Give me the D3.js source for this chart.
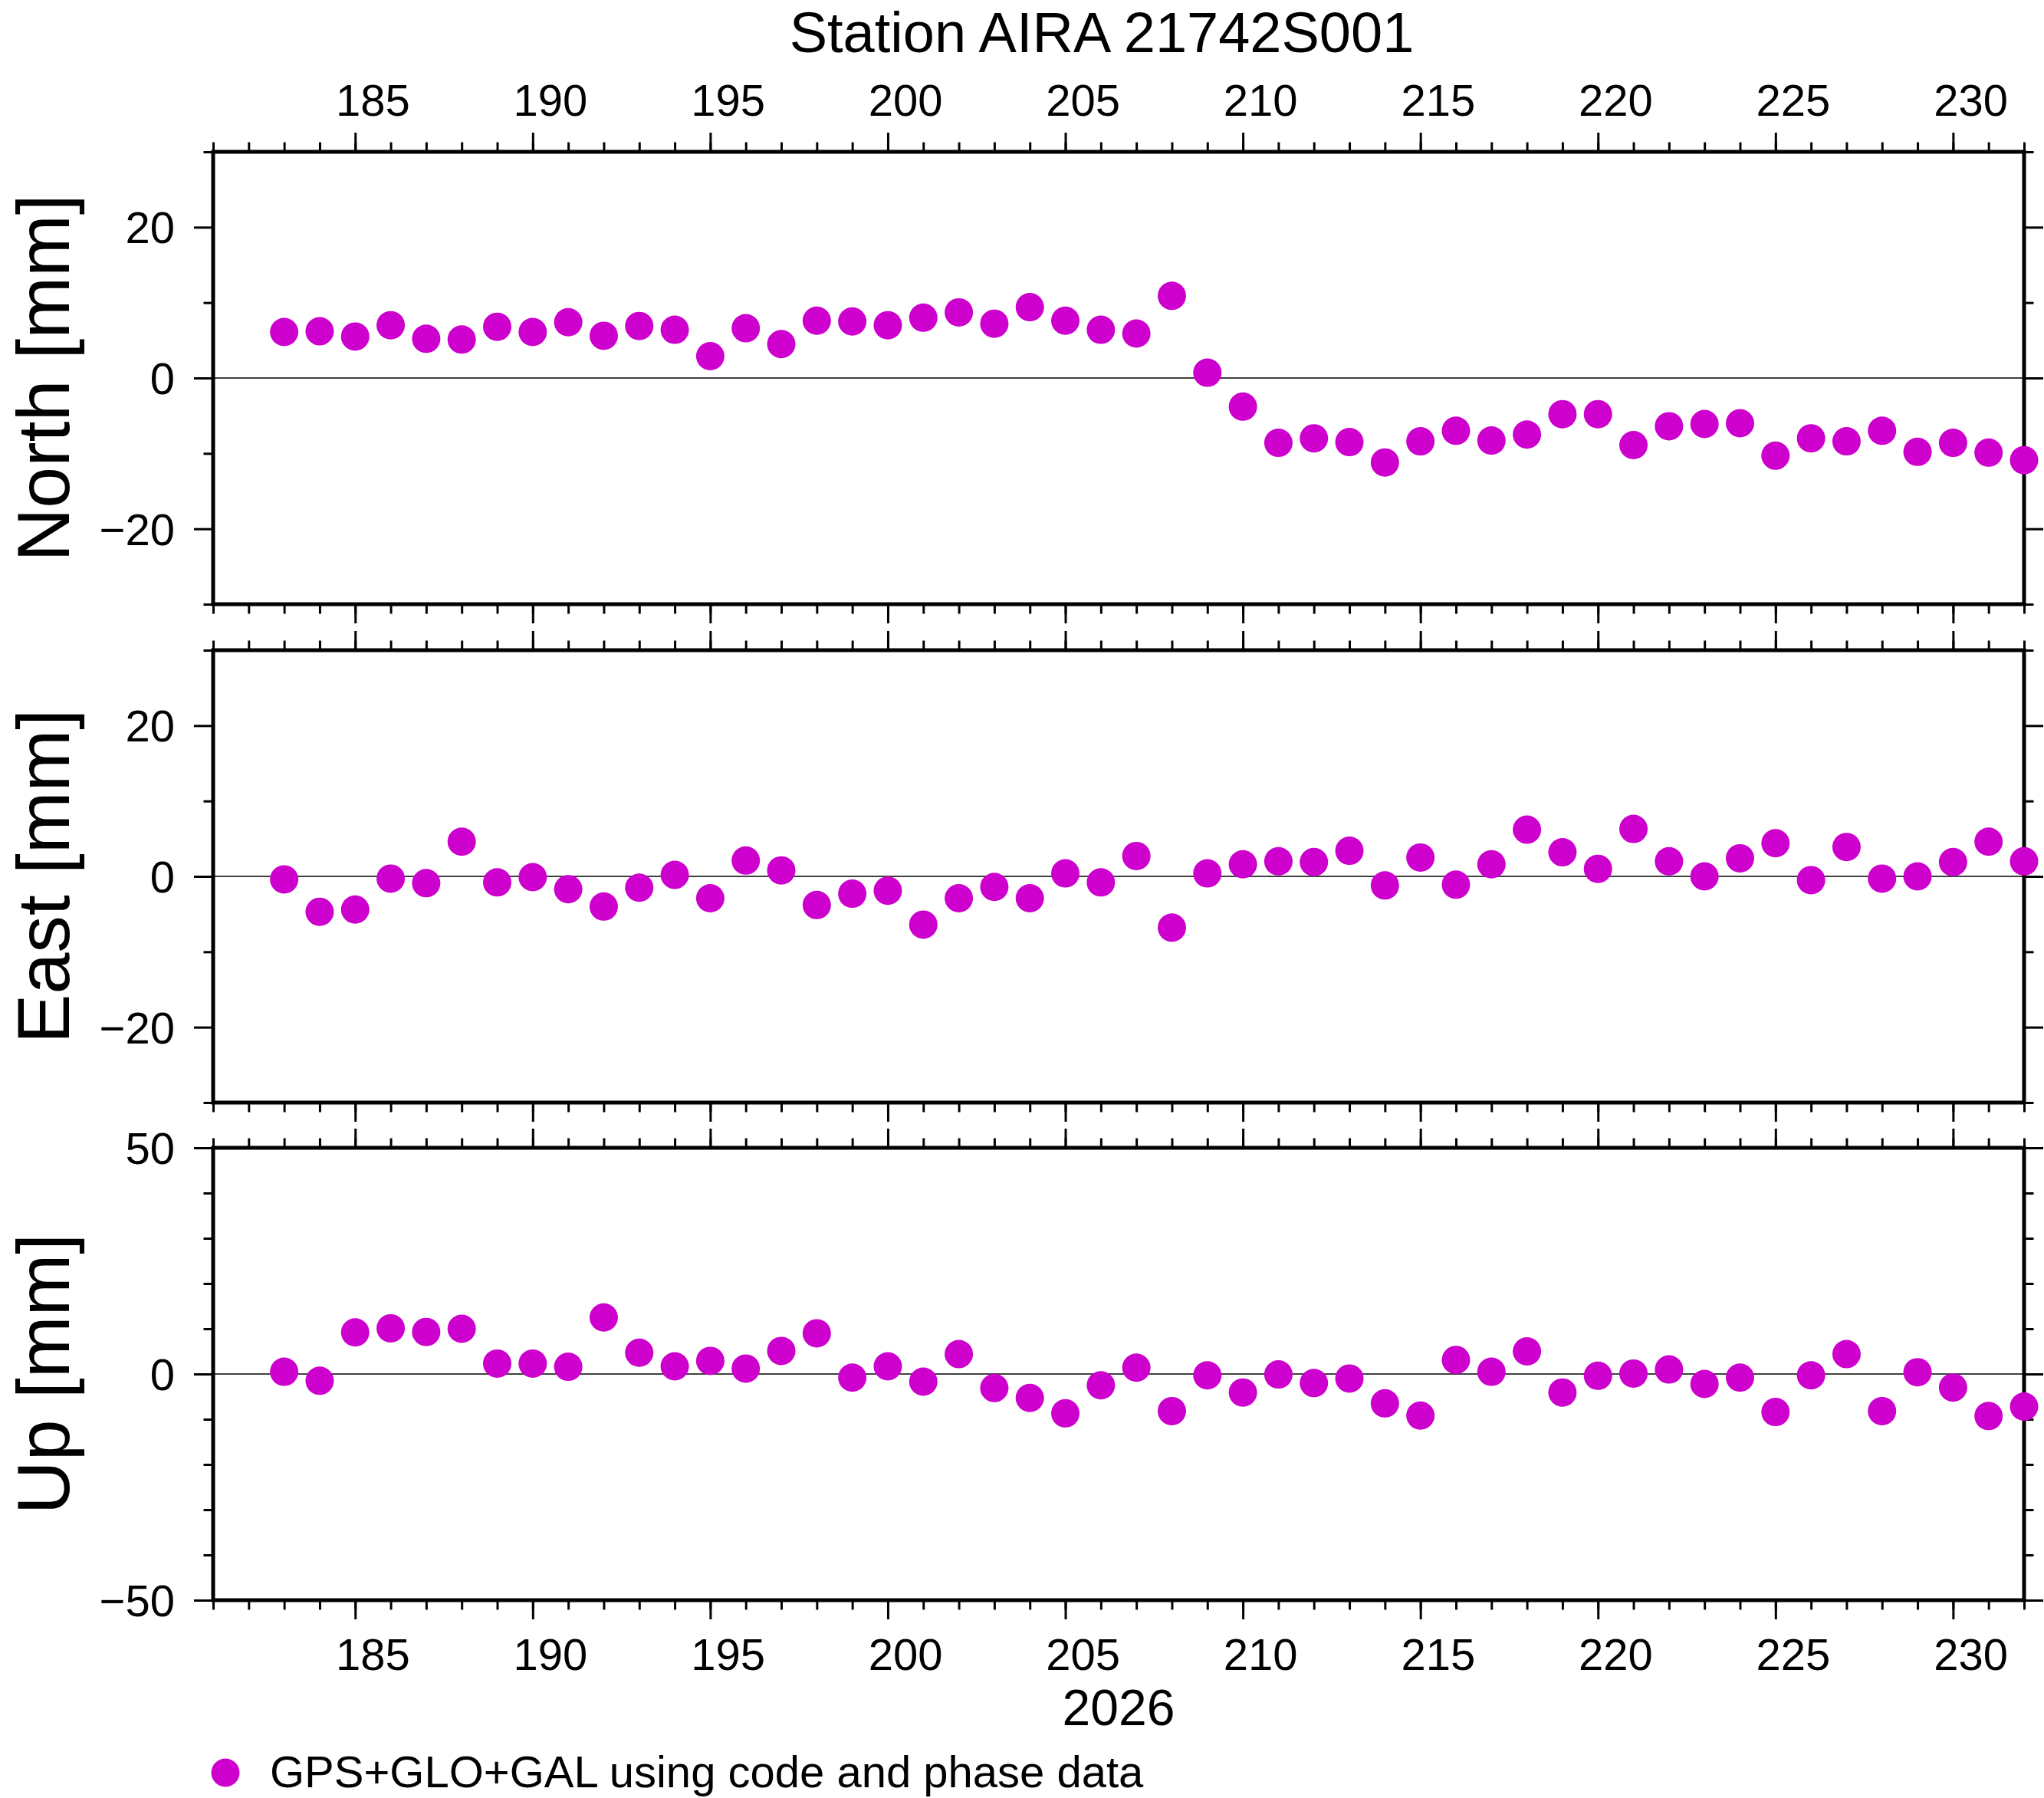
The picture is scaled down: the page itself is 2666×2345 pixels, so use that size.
<!DOCTYPE html>
<html>
<head>
<meta charset="utf-8">
<script src="https://cdn.jsdelivr.net/npm/d3@7"></script>
<style>
  html, body { margin: 0; padding: 0; background: #fff; }
  svg { display: block; }
  text { font-family: "Liberation Sans", Arial, Helvetica, sans-serif; fill: #000; }
</style>
</head>
<body>
<script>
// ---------------- data ----------------
const title = "Station AIRA 21742S001";
const yearLabel = "2026";
const legendLabel = "GPS+GLO+GAL using code and phase data";

const days = [183,184,185,186,187,188,189,190,191,192,193,194,195,196,197,198,199,200,201,202,
              203,204,205,206,207,208,209,210,211,212,213,214,215,216,217,218,219,220,221,222,
              223,224,225,226,227,228,229,230,231,232];

const north = [6.1,6.2,5.5,7.0,5.2,5.1,6.8,6.1,7.4,5.6,6.9,6.4,2.9,6.6,4.5,7.6,7.5,7.0,8.0,8.7,
               7.2,9.4,7.6,6.4,5.9,10.9,0.7,-3.8,-8.6,-8.0,-8.5,-11.2,-8.4,-7.0,-8.3,-7.5,-4.8,-4.8,-8.9,-6.4,
               -6.1,-6.0,-10.3,-8.0,-8.4,-7.0,-9.8,-8.6,-9.9,-10.9];

const east = [-0.4,-4.7,-4.4,-0.3,-0.9,4.6,-0.8,-0.1,-1.7,-4.0,-1.5,0.2,-2.9,2.1,0.8,-3.8,-2.3,-1.9,-6.4,-2.9,
              -1.4,-2.9,0.4,-0.8,2.7,-6.8,0.4,1.6,2.0,1.9,3.4,-1.2,2.5,-1.1,1.6,6.2,3.2,1.0,6.3,2.0,
              0.0,2.4,4.4,-0.5,3.9,-0.3,0.0,1.9,4.6,2.0];

const up = [0.5,-1.5,9.2,10.1,9.3,10.0,2.3,2.3,1.6,12.5,4.7,1.7,2.9,1.2,5.1,9.0,-0.8,1.7,-1.7,4.4,
            -3.1,-5.3,-8.7,-2.5,1.4,-8.2,-0.3,-4.1,-0.1,-2.0,-1.0,-6.5,-9.2,3.1,0.5,5.0,-4.1,-0.4,0.1,1.0,
            -2.2,-0.8,-8.4,-0.3,4.4,-8.2,0.4,-3.0,-9.3,-7.2];

const xDomain = [181, 232];
const xMajorTicks = [185,190,195,200,205,210,215,220,225,230];
const xMinorTicks = [181,182,183,184,185,186,187,188,189,190,191,192,193,194,195,196,197,198,199,200,
                     201,202,203,204,205,206,207,208,209,210,211,212,213,214,215,216,217,218,219,220,
                     221,222,223,224,225,226,227,228,229,230,231,232];

const panelNames = ["North [mm]", "East [mm]", "Up [mm]"];
const panelDomains = [[-30, 30], [-30, 30], [-50, 50]];
const panelMajorTicks = [[-20, 0, 20], [-20, 0, 20], [-50, 0, 50]];
const panelMinorTicks = [[-30,-10,10,30], [-30,-10,10,30], [-40,-30,-20,-10,10,20,30,40]];
const panelValues = [north, east, up];

// ---------------- layout ----------------
const W = 2666, H = 2345;
const left = 278, right = 2640;
const panelTops = [198, 848, 1497];
const panelH = 590;
const color = "rgb(205,0,205)";
const majorLen = 25, minorLen = 12.5;

const svg = d3.select("body").append("svg")
  .attr("width", W).attr("height", H)
  .attr("viewBox", `0 0 ${W} ${H}`);
svg.append("rect").attr("width", W).attr("height", H).attr("fill", "#fff");

const x = d3.scaleLinear().domain(xDomain).range([left, right]);

function styleTicks(g) {
  g.select(".domain").remove();
  g.selectAll(".tick line").attr("stroke", "#000").attr("stroke-width", 3);
  g.selectAll(".tick text").remove();
}

panelNames.forEach((name, i) => {
  const top = panelTops[i], bottom = top + panelH;
  const y = d3.scaleLinear().domain(panelDomains[i]).range([bottom, top]);
  const g = svg.append("g");

  // x ticks top & bottom (outward)
  [[d3.axisTop, top], [d3.axisBottom, bottom]].forEach(([ax, pos]) => {
    g.append("g").attr("transform", `translate(0,${pos})`)
      .call(ax(x).tickValues(xMinorTicks).tickSize(minorLen).tickFormat(""))
      .call(styleTicks);
    g.append("g").attr("transform", `translate(0,${pos})`)
      .call(ax(x).tickValues(xMajorTicks).tickSize(majorLen).tickFormat(""))
      .call(styleTicks);
  });

  // y ticks left & right (outward)
  [[d3.axisLeft, left], [d3.axisRight, right]].forEach(([ax, pos]) => {
    g.append("g").attr("transform", `translate(${pos},0)`)
      .call(ax(y).tickValues(panelMinorTicks[i]).tickSize(minorLen).tickFormat(""))
      .call(styleTicks);
    g.append("g").attr("transform", `translate(${pos},0)`)
      .call(ax(y).tickValues(panelMajorTicks[i]).tickSize(majorLen).tickFormat(""))
      .call(styleTicks);
  });

  // y tick labels
  g.selectAll("text.ylab").data(panelMajorTicks[i]).enter().append("text")
    .attr("class", "ylab")
    .attr("x", left - 50)
    .attr("y", d => y(d) + 21)
    .attr("text-anchor", "end")
    .style("font-size", "58px")
    .text(d => d < 0 ? "\u2212" + Math.abs(d) : String(d));

  // zero line
  g.append("line")
    .attr("x1", left).attr("x2", right)
    .attr("y1", y(0)).attr("y2", y(0))
    .attr("stroke", "#000").attr("stroke-width", 1.3);

  // frame
  g.append("rect")
    .attr("x", left).attr("y", top)
    .attr("width", right - left).attr("height", panelH)
    .attr("fill", "none").attr("stroke", "#000").attr("stroke-width", 5);

  // axis title
  g.append("text")
    .attr("transform", `translate(90,${(top + bottom) / 2}) rotate(-90)`)
    .attr("text-anchor", "middle")
    .style("font-size", "97px")
    .text(name);

  // points
  g.selectAll("circle").data(days).enter().append("circle")
    .attr("cx", d => x(d))
    .attr("cy", (d, k) => y(panelValues[i][k]))
    .attr("r", 18.5)
    .attr("fill", color);
});

// x tick labels (centered on each day interval)
svg.selectAll("text.xtop").data(xMajorTicks).enter().append("text")
  .attr("class", "xtop")
  .attr("x", d => x(d + 0.5)).attr("y", 151)
  .attr("text-anchor", "middle")
  .style("font-size", "58px")
  .text(d => d);

svg.selectAll("text.xbot").data(xMajorTicks).enter().append("text")
  .attr("class", "xbot")
  .attr("x", d => x(d + 0.5)).attr("y", 2178)
  .attr("text-anchor", "middle")
  .style("font-size", "58px")
  .text(d => d);

// year label
svg.append("text")
  .attr("x", (left + right) / 2).attr("y", 2250)
  .attr("text-anchor", "middle")
  .style("font-size", "66px")
  .text(yearLabel);

// title
svg.append("text")
  .attr("x", 1437).attr("y", 68)
  .attr("text-anchor", "middle")
  .style("font-size", "74px")
  .text(title);

// legend
svg.append("circle").attr("cx", 294).attr("cy", 2312).attr("r", 18.5).attr("fill", color);
svg.append("text")
  .attr("x", 352).attr("y", 2331)
  .style("font-size", "58px")
  .text(legendLabel);
</script>
</body>
</html>
